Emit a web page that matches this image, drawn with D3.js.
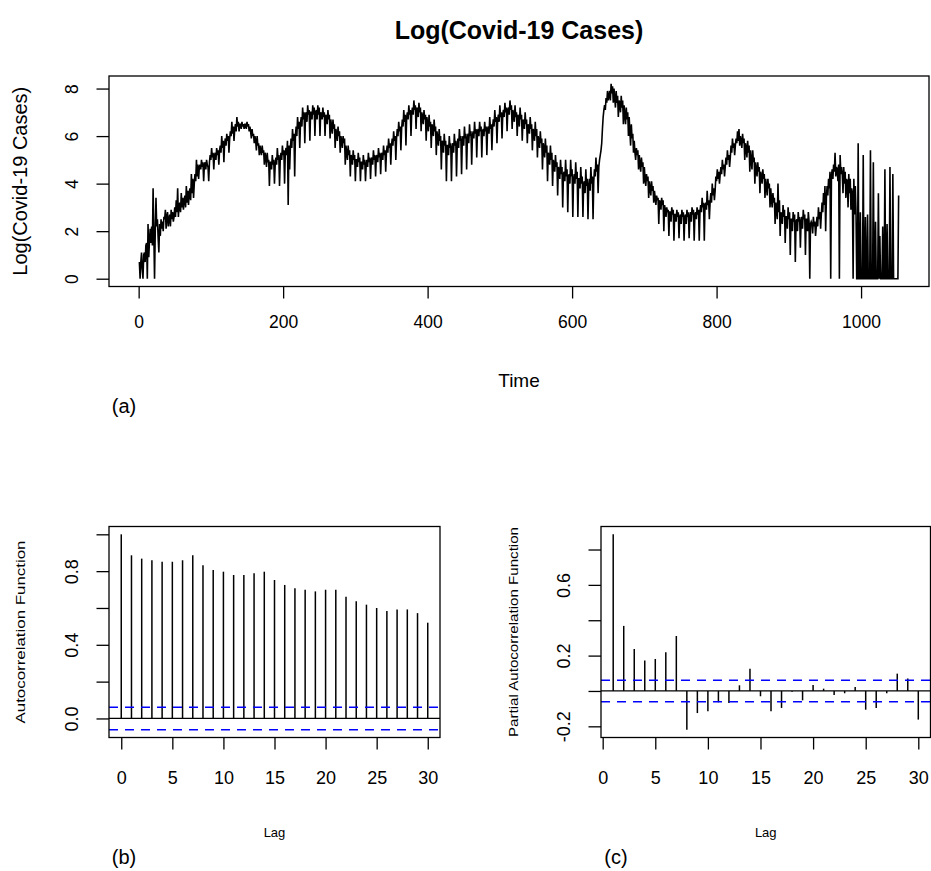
<!DOCTYPE html>
<html lang="en">
<head>
    <meta charset="UTF-8">
    <title>Log(Covid-19 Cases)</title>
    <script src="https://cdn.jsdelivr.net/npm/d3@7"></script>
    <style>
        body { margin: 0; background: #fff; }
        svg text { font-family: "Liberation Sans", Arial, sans-serif; fill: #000; }
        .tick line { stroke: #000; stroke-width: 1.3; }
    </style>
</head>
<body>
<div id="container"></div>
<script>

// daily log(cases), one row per week
const logCases = [
    0.7,0.0,0.7,1.1,0.4,0.0,1.0,
    1.1,0.7,1.4,1.5,0.0,2.3,0.9,
    1.6,2.1,1.5,2.2,1.4,3.8,1.9,
    0.0,2.0,3.4,2.2,2.5,1.7,1.1,
    2.3,1.8,2.5,2.1,2.4,2.0,2.6,
    2.5,2.9,2.1,2.6,2.8,2.2,2.5,
    2.7,2.2,2.9,2.5,2.8,2.4,2.6,
    3.0,2.6,3.3,2.8,3.8,2.6,3.1,
    3.2,2.8,3.6,3.0,3.4,2.9,3.3,
    3.5,3.0,3.9,3.2,3.7,3.1,3.6,
    3.8,3.3,4.4,3.6,4.2,3.4,4.0,
    4.4,4.1,5.0,4.3,4.8,4.2,4.7,
    4.8,4.6,5.0,4.7,4.9,4.1,4.8,
    4.9,4.6,5.0,4.8,4.7,4.1,4.9,
    5.2,5.0,5.5,5.1,5.3,4.6,5.2,
    5.3,5.0,5.5,5.2,5.4,4.8,5.4,
    5.6,5.3,6.0,5.5,5.8,4.9,5.7,
    5.9,5.6,6.1,5.8,6.0,5.3,5.9,
    6.2,6.0,6.6,6.1,6.4,5.8,6.3,
    6.5,6.2,6.8,6.4,6.6,6.2,6.5,
    6.5,6.3,6.6,6.4,6.5,6.3,6.5,
    6.5,6.3,6.6,6.4,6.5,6.2,6.4,
    6.2,5.9,6.3,6.0,6.1,5.7,6.0,
    5.8,5.4,6.0,5.6,5.7,5.2,5.6,
    5.4,5.2,5.6,5.3,5.4,4.8,5.3,
    5.1,4.7,5.3,4.9,5.0,3.9,4.9,
    4.9,4.6,5.2,4.8,5.0,4.0,4.8,
    5.1,4.8,5.5,5.0,5.2,3.9,5.0,
    5.3,5.0,5.6,5.2,5.4,4.0,5.3,
    5.5,5.2,5.8,3.1,5.6,4.6,5.5,
    5.9,5.5,6.3,5.8,6.1,4.3,6.0,
    6.4,6.0,6.8,6.3,6.6,5.5,6.5,
    6.8,6.4,7.2,6.7,7.0,5.7,6.9,
    7.0,6.6,7.3,6.9,7.1,5.8,7.0,
    7.0,6.7,7.3,6.9,7.2,6.0,7.0,
    7.1,6.7,7.3,6.9,7.2,6.0,7.0,
    6.9,6.7,7.2,6.8,7.0,6.0,6.9,
    6.8,6.5,7.1,6.7,6.9,5.9,6.7,
    6.4,6.1,6.7,6.3,6.5,5.5,6.3,
    6.1,5.8,6.4,6.0,6.2,5.3,6.0,
    5.8,5.5,6.0,5.7,5.9,4.8,5.6,
    5.3,5.0,5.6,5.2,5.4,4.3,5.2,
    5.1,4.8,5.4,5.0,5.2,4.1,5.0,
    5.0,4.7,5.3,4.9,5.1,4.1,4.9,
    4.9,4.6,5.2,4.8,5.0,4.1,4.8,
    5.0,4.7,5.3,4.9,5.1,4.2,5.0,
    5.1,4.8,5.4,5.0,5.2,4.3,5.1,
    5.2,4.9,5.5,5.1,5.3,4.4,5.2,
    5.3,5.0,5.6,5.2,5.4,4.5,5.3,
    5.6,5.3,5.9,5.5,5.7,4.8,5.6,
    5.9,5.6,6.2,5.8,6.0,5.0,5.9,
    6.3,6.0,6.6,6.2,6.4,5.4,6.3,
    6.7,6.4,7.1,6.6,6.9,5.6,6.8,
    7.0,6.7,7.3,6.9,7.1,6.0,7.0,
    7.2,6.9,7.5,7.1,7.3,6.3,7.2,
    7.1,6.8,7.4,7.0,7.2,6.2,7.0,
    6.8,6.5,7.1,6.7,6.9,5.8,6.8,
    6.5,6.2,6.9,6.4,6.6,5.5,6.5,
    6.3,6.0,6.7,6.2,6.4,5.2,6.2,
    5.9,5.6,6.3,5.8,6.0,4.6,5.8,
    5.7,5.3,6.1,5.6,5.8,4.1,5.6,
    5.6,5.2,6.0,5.5,5.7,4.1,5.5,
    5.7,5.3,6.1,5.6,5.8,4.3,5.6,
    5.9,5.5,6.3,5.8,6.0,4.4,5.8,
    6.0,5.6,6.4,5.9,6.1,4.6,5.9,
    6.1,5.7,6.5,6.0,6.2,4.8,6.0,
    6.2,5.9,6.6,6.1,6.3,5.1,6.2,
    6.3,6.0,6.6,6.2,6.4,5.1,6.2,
    6.3,6.0,6.6,6.2,6.4,5.2,6.3,
    6.4,6.1,6.8,6.3,6.5,5.4,6.4,
    6.7,6.4,7.1,6.6,6.8,5.7,6.7,
    6.9,6.6,7.3,6.8,7.0,5.9,6.9,
    7.1,6.8,7.4,7.0,7.2,6.2,7.1,
    7.2,6.9,7.5,7.1,7.3,6.3,7.1,
    6.9,6.6,7.3,6.8,7.0,6.0,6.9,
    6.8,6.4,7.2,6.7,6.9,5.8,6.7,
    6.6,6.3,7.0,6.5,6.7,5.7,6.5,
    6.4,6.1,6.8,6.3,6.5,5.4,6.3,
    6.2,5.8,6.6,6.0,6.3,5.1,6.0,
    5.8,5.5,6.2,5.7,5.9,4.6,5.7,
    5.5,5.1,5.9,5.3,5.6,4.1,5.3,
    5.2,4.8,5.6,5.0,5.3,3.9,5.0,
    4.8,4.5,5.2,4.7,4.9,3.5,4.7,
    4.6,4.2,5.0,4.4,4.7,3.0,4.4,
    4.5,4.1,5.0,4.3,4.6,2.8,4.3,
    4.4,4.0,5.0,4.3,4.6,2.6,4.2,
    4.4,4.0,4.9,4.2,4.5,2.6,4.2,
    4.2,3.8,4.7,4.0,4.3,2.6,4.0,
    4.1,3.6,4.6,3.9,4.2,2.5,3.9,
    4.2,3.7,4.7,4.0,4.3,2.5,4.1,
    4.6,4.3,5.1,4.5,4.8,3.6,4.7,
    5.0,5.2,5.4,5.7,6.3,6.8,7.1,
    7.3,7.1,7.6,7.4,7.9,7.5,7.7,
    7.9,7.5,8.2,7.8,8.1,7.4,8.0,
    7.6,7.2,7.9,7.4,7.7,6.8,7.5,
    7.4,7.0,7.7,7.2,7.5,6.5,7.3,
    6.9,6.5,7.2,6.7,7.0,6.0,6.8,
    6.2,5.6,6.5,5.9,6.1,5.3,5.8,
    5.3,5.0,5.5,5.2,5.4,4.6,5.2,
    4.8,4.5,5.1,4.7,4.9,4.0,4.7,
    4.2,3.9,4.4,4.1,4.3,3.4,4.1,
    3.8,3.5,4.1,3.7,3.9,3.2,3.7,
    3.4,3.1,3.5,3.3,3.4,2.3,3.3,
    3.2,2.9,3.4,3.1,3.3,2.0,3.1,
    2.9,2.6,3.0,2.8,2.9,1.8,2.8,
    2.8,2.4,3.0,2.7,2.9,1.6,2.7,
    2.7,2.4,2.9,2.6,2.8,1.7,2.6,
    2.7,2.3,2.9,2.6,2.8,1.6,2.6,
    2.7,2.3,2.9,2.6,2.8,1.7,2.6,
    2.8,2.4,3.0,2.7,2.9,1.6,2.7,
    2.8,2.5,3.0,2.7,2.9,1.6,2.8,
    3.1,2.8,3.4,3.0,3.2,1.6,3.1,
    3.2,2.9,3.7,3.1,3.3,2.5,3.2,
    3.6,3.2,4.0,3.5,3.8,3.3,3.7,
    4.3,4.1,4.6,4.2,4.5,4.0,4.4,
    4.7,4.4,5.0,4.6,4.8,4.3,4.7,
    5.1,4.8,5.4,5.0,5.2,4.7,5.1,
    5.6,5.3,5.9,5.5,5.7,5.2,5.6,
    5.9,5.7,6.2,5.8,6.3,5.6,6.0,
    5.8,5.5,6.1,5.7,5.9,5.0,5.7,
    5.5,5.1,5.8,5.3,5.6,4.5,5.4,
    5.0,4.6,5.4,4.9,5.1,4.0,4.9,
    4.6,4.3,4.9,4.5,4.7,3.6,4.5,
    4.3,4.0,4.6,4.2,4.4,3.4,4.2,
    3.9,3.5,4.2,3.8,4.0,3.0,3.8,
    3.3,3.0,3.6,3.2,3.4,2.3,3.2,
    2.9,2.5,4.0,2.8,3.3,1.8,2.8,
    2.7,2.3,3.1,2.6,2.9,1.5,2.6,
    2.6,2.1,3.0,2.5,2.8,1.0,2.5,
    2.5,2.0,2.8,2.4,2.7,0.7,2.4,
    2.5,2.0,2.8,2.4,2.6,1.3,2.4,
    2.6,2.1,2.9,2.5,2.7,1.0,2.5,
    2.5,2.0,2.8,2.4,0.0,2.3,2.4,
    2.3,1.9,2.6,2.2,2.4,1.8,2.2,
    2.6,2.2,3.0,2.5,2.8,2.1,2.7,
    3.2,2.8,3.6,3.1,3.9,2.0,3.4,
    3.9,3.5,4.2,3.8,4.5,0.0,4.3,
    4.6,4.2,4.8,4.5,5.3,4.3,4.7,
    4.6,4.1,4.8,0.0,5.2,4.4,4.7,
    4.4,3.6,4.7,4.0,4.5,3.4,4.2,
    4.1,3.0,4.4,3.6,4.2,2.9,3.8,
    3.6,0.0,4.2,2.7,3.9,2.8,0.0,
    0.0,5.7,0.0,0.0,2.8,0.0,0.0,
    0.0,5.2,0.0,0.0,2.6,0.0,0.0,
    2.7,0.0,0.0,0.0,5.4,0.0,0.0,
    0.0,4.9,0.0,0.0,2.4,0.0,0.0,
    0.0,3.6,0.0,1.8,0.0,0.0,0.0,
    2.2,0.0,0.0,4.6,0.0,0.0,2.3,
    0.0,0.0,0.0,4.7,0.0,0.0,0.0,
    4.4,0.0,0.0,0.0,0.0,0.0,0.0,
    0.0,3.5
];

const acfValues = [1.000, 0.886, 0.868, 0.859, 0.851, 0.851, 0.859, 0.886, 0.832, 0.806,
    0.797, 0.779, 0.779, 0.788, 0.797, 0.752, 0.725, 0.707, 0.699, 0.690,
    0.699, 0.699, 0.661, 0.636, 0.618, 0.600, 0.583, 0.592, 0.592, 0.572, 0.520];
const pacfValues = [0.886, 0.368, 0.238, 0.172, 0.181, 0.219, 0.311, -0.219, -0.125, -0.115,
    -0.064, -0.068, 0.032, 0.125, -0.030, -0.115, -0.096, -0.004, -0.053, 0.034,
    0.013, -0.023, -0.013, 0.023, -0.106, -0.096, -0.013, 0.098, 0.070, -0.162];
const confLimit = 0.061;

const timeTicks = [0, 200, 400, 600, 800, 1000];
const logTicks = [0, 2, 4, 6, 8];
const lagTicks = [0, 5, 10, 15, 20, 25, 30];
const acfTicks = [0, 0.2, 0.4, 0.6, 0.8, 1.0];
const acfTickLabels = [0, 0.4, 0.8];
const pacfTicks = [-0.2, 0, 0.2, 0.4, 0.6, 0.8];
const pacfTickLabels = [-0.2, 0.2, 0.6];

const width = 931, height = 871;
const svg = d3.select("#container").append("svg")
    .attr("width", width)
    .attr("height", height);

// R style 4% range extension
function rPad(ext) {
    const d = (ext[1] - ext[0]) * 0.04;
    return [ext[0] - d, ext[1] + d];
}

function yAxisRotated(g, scale, ticks, labels, fmt, dist, fs) {
    g.call(d3.axisLeft(scale).tickValues(ticks).tickSize(12.5).tickSizeOuter(0)
        .tickFormat(d => labels.some(l => Math.abs(l - d) < 1e-9) ? fmt(d) : ""));
    g.select(".domain").remove();
    g.selectAll(".tick text")
        .attr("x", 0).attr("y", -dist).attr("dy", "0.35em")
        .attr("text-anchor", "middle")
        .attr("transform", "rotate(-90)")
        .attr("font-size", fs).attr("font-family", null);
}

function xAxis(g, scale, ticks, dist, fs) {
    g.call(d3.axisBottom(scale).tickValues(ticks).tickSize(12).tickSizeOuter(0)
        .tickFormat(d => String(d)));
    g.select(".domain").remove();
    g.selectAll(".tick text")
        .attr("y", dist).attr("dy", "0.35em")
        .attr("font-size", fs).attr("font-family", null);
}

// ---- (a) time series ----
const pa = {left: 109, right: 929, top: 76, bottom: 286.5};
const xa = d3.scaleLinear().domain(rPad([1, logCases.length])).range([pa.left, pa.right]);
const ya = d3.scaleLinear().domain(rPad(d3.extent(logCases))).range([pa.bottom, pa.top]);

svg.append("path")
    .datum(logCases)
    .attr("fill", "none")
    .attr("stroke", "#000")
    .attr("stroke-width", 1.6)
    .attr("d", d3.line().x((d, i) => xa(i + 1)).y(d => ya(d)));

svg.append("rect")
    .attr("x", pa.left).attr("y", pa.top)
    .attr("width", pa.right - pa.left).attr("height", pa.bottom - pa.top)
    .attr("fill", "none").attr("stroke", "#000").attr("stroke-width", 1.3);

svg.append("g").attr("transform", `translate(0,${pa.bottom})`)
    .call(g => xAxis(g, xa, timeTicks, 35.5, 17.5));
svg.append("g").attr("transform", `translate(${pa.left},0)`)
    .call(g => yAxisRotated(g, ya, logTicks, logTicks, d => String(d), 37, 17.5));

svg.append("text")
    .attr("x", (pa.left + pa.right) / 2).attr("y", 30).attr("dy", "0.35em")
    .attr("text-anchor", "middle").attr("font-size", 25).attr("font-weight", "bold")
    .text("Log(Covid-19 Cases)");
svg.append("text")
    .attr("x", (pa.left + pa.right) / 2).attr("y", 380).attr("dy", "0.35em")
    .attr("text-anchor", "middle").attr("font-size", 19)
    .text("Time");
svg.append("text")
    .attr("transform", `translate(20,${(pa.top + pa.bottom) / 2}) rotate(-90)`)
    .attr("dy", "0.35em")
    .attr("text-anchor", "middle").attr("font-size", 20)
    .text("Log(Covid-19 Cases)");
svg.append("text")
    .attr("x", 124).attr("y", 406).attr("dy", "0.35em")
    .attr("text-anchor", "middle").attr("font-size", 20)
    .text("(a)");

// ---- correlogram panels ----
function correlogram(box, lags, values, ticks, tickLabels, yTitle, yTitleX, yTitleLen, tag) {
    const x = d3.scaleLinear().domain(rPad(d3.extent(lags))).range([box.left, box.right]);
    const y = d3.scaleLinear()
        .domain(rPad([Math.min(-confLimit, d3.min(values)), Math.max(confLimit, d3.max(values))]))
        .range([box.bottom, box.top]);

    svg.append("g")
        .selectAll("line")
        .data(values)
        .join("line")
        .attr("x1", (d, i) => x(lags[i])).attr("x2", (d, i) => x(lags[i]))
        .attr("y1", y(0)).attr("y2", d => y(d))
        .attr("stroke", "#000").attr("stroke-width", 1.5);

    svg.append("line")
        .attr("x1", box.left).attr("x2", box.right)
        .attr("y1", y(0)).attr("y2", y(0))
        .attr("stroke", "#000").attr("stroke-width", 1.3);

    svg.append("g")
        .selectAll("line")
        .data([confLimit, -confLimit])
        .join("line")
        .attr("x1", box.left).attr("x2", box.right)
        .attr("y1", d => y(d)).attr("y2", d => y(d))
        .attr("stroke", "#0000ff").attr("stroke-width", 1.6)
        .attr("stroke-dasharray", "9,7");

    svg.append("rect")
        .attr("x", box.left).attr("y", box.top)
        .attr("width", box.right - box.left).attr("height", box.bottom - box.top)
        .attr("fill", "none").attr("stroke", "#000").attr("stroke-width", 1.3);

    svg.append("g").attr("transform", `translate(0,${box.bottom})`)
        .call(g => xAxis(g, x, lagTicks, 40.5, 18));
    svg.append("g").attr("transform", `translate(${box.left},0)`)
        .call(g => yAxisRotated(g, y, ticks, tickLabels, d => d.toFixed(1), 37, 18));

    const cx = (box.left + box.right) / 2;
    svg.append("text")
        .attr("x", cx).attr("y", 832).attr("dy", "0.35em")
        .attr("text-anchor", "middle").attr("font-size", 13)
        .text("Lag");
    svg.append("text")
        .attr("transform", `translate(${yTitleX},${(box.top + box.bottom) / 2}) rotate(-90)`)
        .attr("dy", "0.35em")
        .attr("text-anchor", "middle").attr("font-size", 13.5)
        .attr("textLength", yTitleLen).attr("lengthAdjust", "spacingAndGlyphs")
        .text(yTitle);
    svg.append("text")
        .attr("x", box.left + 15).attr("y", 857).attr("dy", "0.35em")
        .attr("text-anchor", "middle").attr("font-size", 20)
        .text(tag);
}

const acfLags = acfValues.map((d, i) => i);
const pacfLags = pacfValues.map((d, i) => i + 1);

correlogram({left: 109, right: 440, top: 526.5, bottom: 737.5}, acfLags, acfValues,
    acfTicks, acfTickLabels, "Autocorrelation Function", 20, 183, "(b)");
correlogram({left: 601, right: 930.5, top: 526.5, bottom: 737.5}, pacfLags, pacfValues,
    pacfTicks, pacfTickLabels, "Partial Autocorrelation Function", 513, 210, "(c)");

</script>
</body>
</html>
